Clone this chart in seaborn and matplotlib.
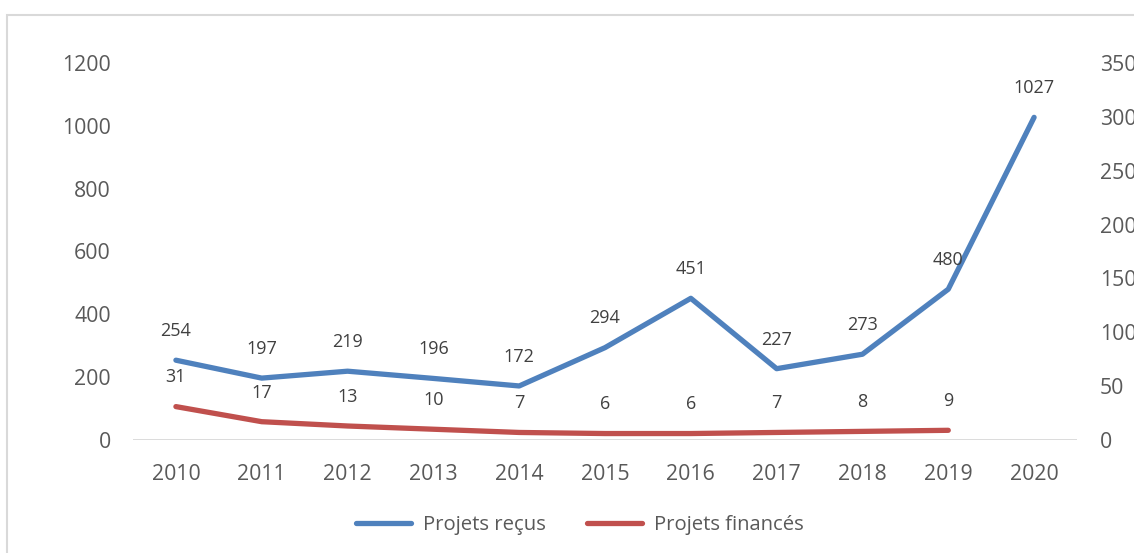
import matplotlib
matplotlib.use("Agg")
import matplotlib.pyplot as plt
import seaborn as sns
import pandas as pd
from matplotlib.patches import Rectangle
from matplotlib.lines import Line2D

years = ["2010", "2011", "2012", "2013", "2014", "2015", "2016", "2017", "2018", "2019", "2020"]
recus = [254, 197, 219, 196, 172, 294, 451, 227, 273, 480, 1027]
finances = [31, 17, 13, 10, 7, 6, 6, 7, 8, 9]

sns.set_theme(style="white")
plt.rcParams['font.family'] = ['Open Sans', 'DejaVu Sans']
TXT = "#595959"
BLUE = "#4F81BD"
RED = "#C0504D"

fig = plt.figure(figsize=(11.34, 5.53), dpi=100)
ax = fig.add_axes([133/1134, 1-440/553, (1077-133)/1134, (440-63)/553])
ax2 = ax.twinx()

df1 = pd.DataFrame({"x": range(len(recus)), "y": recus})
df2 = pd.DataFrame({"x": range(len(finances)), "y": finances})

sns.lineplot(data=df1, x="x", y="y", ax=ax, color=BLUE, linewidth=3.8, solid_capstyle="round")
sns.lineplot(data=df2, x="x", y="y", ax=ax2, color=RED, linewidth=3.8, solid_capstyle="round")

ax.set_xlim(-0.5, len(years) - 0.5)
ax.set_ylim(0, 1200)
ax2.set_ylim(0, 350)
ax.set_yticks(range(0, 1201, 200))
ax2.set_yticks(range(0, 351, 50))
ax.set_xticks(range(len(years)))
ax.set_xticklabels(years)

for a in (ax, ax2):
    a.set_xlabel("")
    a.set_ylabel("")
    for s in a.spines.values():
        s.set_visible(False)
    a.tick_params(length=0, labelsize=15.3, labelcolor=TXT)
    a.grid(False)
ax.tick_params(axis="y", pad=16)
ax.tick_params(axis="x", pad=17)
ax2.tick_params(axis="y", pad=16.5)
ax.axhline(0, color="#D9D9D9", linewidth=1.3, zorder=0)

for i, v in enumerate(recus):
    ax.annotate(str(v), (i, v), xytext=(0, 21), textcoords="offset points",
                ha="center", va="center", fontsize=13, color="#404040")
for i, v in enumerate(finances):
    ax2.annotate(str(v), (i, v), xytext=(0, 21), textcoords="offset points",
                 ha="center", va="center", fontsize=13, color="#404040")

handles = [Line2D([], [], color=BLUE, linewidth=3.8, solid_capstyle="round"),
           Line2D([], [], color=RED, linewidth=3.8, solid_capstyle="round")]
fig.legend(handles, ["Projets reçus", "Projets financés"], loc="center",
           bbox_to_anchor=(580/1134, 1-525/553), ncol=2, frameon=False,
           fontsize=14.6, labelcolor=TXT, handlelength=2.7, columnspacing=2.0,
           handletextpad=0.6)

fig.patches.append(Rectangle((7/1134, -0.1), 1.2, 1-15/553+0.1, transform=fig.transFigure,
                             fill=False, edgecolor="#D9D9D9", linewidth=1.5, zorder=-1))

fig.savefig("out.png", dpi=100)
